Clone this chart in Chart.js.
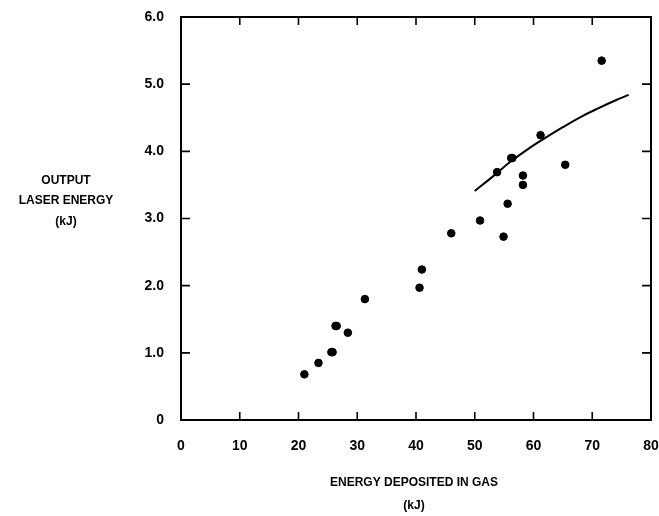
<!DOCTYPE html>
<html>
<head>
<meta charset="utf-8">
<script src="https://cdn.jsdelivr.net/npm/chart.js@4/dist/chart.umd.min.js"></script>
<style>
html,body{margin:0;padding:0;background:#fff;}
#wrap{width:659px;height:516px;position:relative;}
</style>
</head>
<body>
<div id="wrap"><canvas id="c" width="659" height="516"></canvas></div>
<script>
// Measured data points (energy deposited in gas, output laser energy), kJ
const depositedX = [21.0, 23.4, 25.6, 25.8, 26.3, 26.5, 28.4, 31.3, 40.6, 41.0, 46.0, 50.9, 53.8, 54.9, 55.6, 56.2, 56.4, 58.2, 58.2, 61.2, 65.4, 71.6];
const outputY    = [0.68, 0.85, 1.01, 1.01, 1.40, 1.40, 1.30, 1.80, 1.97, 2.24, 2.78, 2.97, 3.69, 2.73, 3.22, 3.90, 3.90, 3.50, 3.64, 4.24, 3.80, 5.35];
// Model curve
const curveX = [50, 53, 56, 59, 62, 65, 68, 71, 74, 76.2];
const curveY = [3.41, 3.62, 3.84, 4.03, 4.20, 4.36, 4.51, 4.64, 4.76, 4.84];
// Axis ticks
const xTicks = [0, 10, 20, 30, 40, 50, 60, 70, 80];
const yTicks = [0, 1, 2, 3, 4, 5, 6];
const yTickLabels = ["0", "1.0", "2.0", "3.0", "4.0", "5.0", "6.0"];
const yTitleLines = ["OUTPUT", "LASER ENERGY", "(kJ)"];
const xTitleLines = ["ENERGY DEPOSITED IN GAS", "(kJ)"];

const FAMILY = '"Liberation Sans", Arial, sans-serif';
const FONT = 'bold 12px ' + FAMILY;

const framePlugin = {
  id: 'frame',
  afterDraw(chart) {
    const {ctx, chartArea: a, scales: {x, y}} = chart;
    ctx.save();
    ctx.strokeStyle = '#000';
    ctx.lineWidth = 2;
    ctx.strokeRect(a.left, a.top, a.right - a.left, a.bottom - a.top);
    ctx.lineWidth = 1.6;
    ctx.beginPath();
    xTicks.forEach(v => {
      if (v === 0 || v === 80) return;
      const px = x.getPixelForValue(v);
      ctx.moveTo(px, a.bottom); ctx.lineTo(px, a.bottom - 8);
      ctx.moveTo(px, a.top); ctx.lineTo(px, a.top + 8);
    });
    yTicks.forEach(v => {
      if (v === 0 || v === 6) return;
      const py = y.getPixelForValue(v);
      ctx.moveTo(a.left, py); ctx.lineTo(a.left + 9, py);
      ctx.moveTo(a.right, py); ctx.lineTo(a.right - 9, py);
    });
    ctx.stroke();
    // titles
    ctx.fillStyle = '#000';
    ctx.font = FONT;
    ctx.textAlign = 'center';
    ctx.textBaseline = 'middle';
    const yT = [181, 201, 222];
    yTitleLines.forEach((t, i) => ctx.fillText(t, 66, yT[i]));
    const xT = [483, 506];
    xTitleLines.forEach((t, i) => ctx.fillText(t, 414, xT[i]));
    ctx.restore();
  }
};

new Chart(document.getElementById('c'), {
  type: 'scatter',
  data: {
    datasets: [
      {
        label: 'Measured',
        data: depositedX.map((v, i) => ({x: v, y: outputY[i]})),
        backgroundColor: '#000',
        borderColor: '#000',
        pointRadius: 3.8,
        pointHoverRadius: 3.8
      },
      {
        label: 'Model',
        type: 'line',
        data: curveX.map((v, i) => ({x: v, y: curveY[i]})),
        borderColor: '#000',
        borderWidth: 2,
        pointRadius: 0,
        tension: 0.4,
        fill: false
      }
    ]
  },
  options: {
    responsive: false,
    animation: false,
    layout: {padding: {left: 0, right: 8, top: 17, bottom: 0}},
    plugins: {legend: {display: false}, tooltip: {enabled: false}},
    scales: {
      x: {
        type: 'linear', min: 0, max: 80,
        afterBuildTicks(s) { s.ticks = xTicks.map(v => ({value: v})); },
        afterFit(s) { s.height = 96; s.paddingLeft = 0; s.paddingRight = 0; },
        grid: {display: false},
        border: {display: false},
        ticks: {color: '#000', font: {family: FAMILY, size: 14, weight: 'bold'}, padding: 10, maxRotation: 0}
      },
      y: {
        type: 'linear', min: 0, max: 6,
        afterBuildTicks(s) { s.ticks = yTicks.map(v => ({value: v})); },
        afterFit(s) { s.width = 181; s.paddingTop = 0; s.paddingBottom = 0; },
        grid: {display: false},
        border: {display: false},
        ticks: {color: '#000', font: {family: FAMILY, size: 14, weight: 'bold'}, padding: 9,
          callback: (v) => yTickLabels[yTicks.indexOf(v)]}
      }
    }
  },
  plugins: [framePlugin]
});
</script>
</body>
</html>
